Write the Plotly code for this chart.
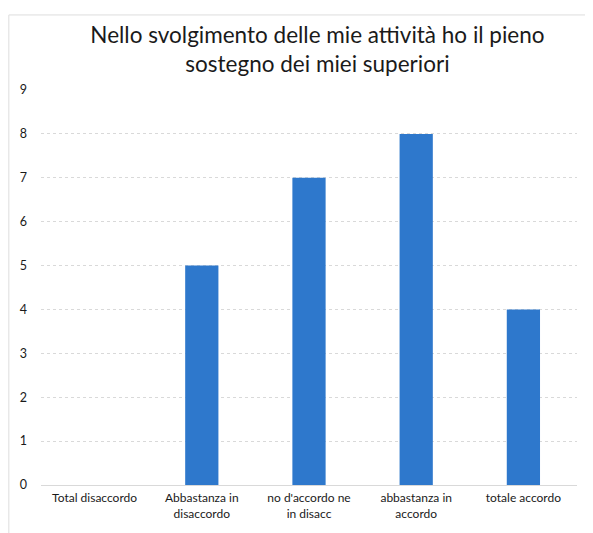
import plotly.graph_objects as go

categories = ["Total disaccordo", "Abbastanza in<br>disaccordo", "no d'accordo ne<br>in disacc",
              "abbastanza in<br>accordo", "totale accordo"]
values = [0, 5, 7, 8, 4]
y_ticks = [0, 1, 2, 3, 4, 5, 6, 7, 8, 9]

fig = go.Figure(go.Bar(x=categories, y=values, marker_color="#2E78CC",
                       marker_line_width=0, width=0.31))

fig.update_layout(
    width=585, height=525,
    margin=dict(l=33, r=16, t=82, b=44),
    paper_bgcolor="white", plot_bgcolor="white",
    title=dict(text="Nello svolgimento delle mie attività ho il pieno<br>sostegno dei miei superiori",
               x=0.529, xanchor="center", y=0.934, yanchor="top",
               font=dict(family="Lato, Open Sans, sans-serif", size=22.5, color="#1a1a1a")),
    font=dict(family="Lato, Open Sans, sans-serif", size=12, color="#222222"),
    showlegend=False,
)
fig.update_yaxes(range=[0, 9], tickvals=y_ticks, showgrid=True, gridcolor="#D9D9D9",
                 griddash="dot", zeroline=False, showline=False, ticks="",
                 tickfont=dict(size=12.5, color="#1a1a1a"), ticklabelstandoff=13)
fig.update_xaxes(showline=True, linecolor="#D9D9D9", ticks="", ticklabelstandoff=2,
                 tickfont=dict(size=12, color="#1a1a1a"))
fig.add_shape(type="rect", xref="paper", yref="paper",
              x0=-0.06, x1=1.024, y0=-0.2, y1=1.19,
              line=dict(color="#DDDDDD", width=1), layer="below")
fig.write_html("out.html")
